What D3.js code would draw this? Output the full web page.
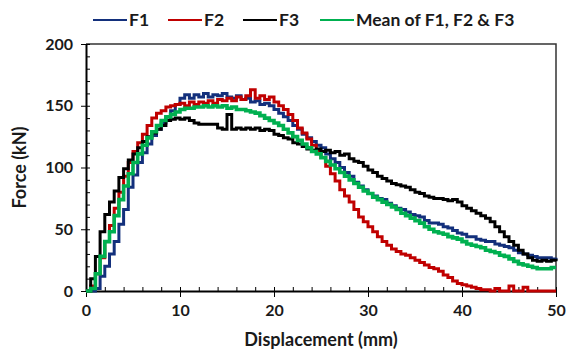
<!DOCTYPE html>
<html>
<head>
<meta charset="utf-8">
<script src="https://cdn.jsdelivr.net/npm/d3@7"></script>
<style>
  body { margin: 0; background: #fff; }
  text { font-family: Lato, "Open Sans", sans-serif; font-weight: bold; fill: #1a1a1a; }
</style>
</head>
<body>
<div id="chart"></div>
<script>
// displacement (mm), sampled every 0.5 mm
const displacement = d3.range(0, 50.01, 0.5);

const f1 = [0, 0, 2, 12, 20, 30, 40, 54, 66, 84, 94, 104, 112, 119, 126, 131, 136, 141, 146, 151,
  156, 159, 156, 159, 157, 160, 157, 159, 158, 160, 157, 156, 158, 155, 156, 153, 154, 151, 152, 150,
  147, 144, 141, 138, 134, 131, 127, 124, 121, 118, 116, 111, 107, 104, 100, 96, 93, 88, 85, 82,
  79, 77, 75, 74, 71, 69, 67, 66, 64, 62, 61, 60, 57, 55, 55, 54, 52, 51, 49, 47,
  46, 44, 44, 42, 41, 40, 40, 38, 37, 36, 35, 33, 31, 30, 29, 28, 27, 27, 27, 26, 27];

const f2 = [0, 4, 14, 27, 40, 53, 67, 80, 93, 104, 113, 120, 127, 134, 140, 144, 146, 149, 150, 151,
  152, 150, 153, 151, 153, 152, 154, 152, 155, 154, 156, 154, 157, 155, 158, 163, 156, 158, 155, 157,
  153, 150, 147, 143, 138, 132, 128, 123, 118, 113, 108, 101, 95, 89, 82, 77, 72, 66, 60, 56,
  52, 48, 44, 40, 37, 34, 32, 30, 29, 27, 25, 23, 21, 19, 18, 16, 13, 11, 8, 6,
  5, 4, 3, 2, 1, 1, 0, 2, 0, 0, 4, 0, 0, 3, 0, 0, 0, 0, 0, 0, 0];

const f3 = [0, 10, 28, 48, 62, 72, 81, 92, 99, 106, 111, 116, 121, 125, 128, 131, 134, 138, 139, 140,
  139, 140, 138, 136, 135, 135, 135, 135, 132, 131, 143, 131, 132, 131, 132, 131, 132, 130, 131, 130,
  127, 126, 124, 123, 120, 119, 117, 115, 114, 115, 113, 114, 112, 113, 110, 111, 107, 105, 104, 101,
  98, 96, 93, 91, 89, 87, 86, 85, 84, 82, 80, 79, 77, 76, 75, 75, 74, 73, 74, 72,
  69, 67, 65, 63, 61, 59, 56, 52, 48, 44, 40, 37, 33, 30, 27, 25, 24, 25, 24, 25, 24];

const fMean = [0, 2, 14, 28, 40, 48, 61, 74, 85, 95, 104, 111, 118, 124, 129, 134, 138, 141, 143, 145,
  147, 148, 148, 149, 149, 150, 149, 150, 149, 150, 148, 149, 147, 147, 146, 145, 144, 142, 140, 138,
  136, 134, 131, 128, 125, 122, 119, 116, 113, 111, 108, 105, 102, 99, 96, 93, 90, 87, 84, 81,
  79, 76, 74, 72, 70, 68, 66, 63, 61, 59, 57, 55, 52, 50, 48, 47, 46, 44, 43, 42,
  40, 38, 37, 36, 35, 33, 32, 31, 29, 28, 26, 24, 22, 21, 20, 19, 18, 18, 18, 19, 19];

const seriesNames = ["F1", "F2", "F3", "Mean of F1, F2 & F3"];
const seriesColors = ["#13307c", "#c00000", "#000000", "#00b050"];
const seriesValues = [f1, f2, f3, fMean];

const xTicks = [0, 10, 20, 30, 40, 50];
const yTicks = [0, 50, 100, 150, 200];

const W = 572, H = 354;
const margin = { top: 44, right: 16, bottom: 63, left: 86 };
const width = W - margin.left - margin.right;
const height = H - margin.top - margin.bottom;

const svg = d3.select("#chart").append("svg")
  .attr("width", W)
  .attr("height", H);

const g = svg.append("g")
  .attr("transform", `translate(${margin.left},${margin.top})`);

const x = d3.scaleLinear().domain([0, 50]).range([0, width]);
const y = d3.scaleLinear().domain([0, 200]).range([height, 0]);

// top and right frame
g.append("path")
  .attr("d", `M0,0H${width}V${height}`)
  .attr("fill", "none")
  .attr("stroke", "#333")
  .attr("stroke-width", 1.5);

// minor ticks (inside)
g.append("g")
  .attr("transform", `translate(0,${height})`)
  .call(d3.axisTop(x).tickValues(d3.range(0, 50.01, 2)).tickSize(4).tickFormat(""))
  .call(a => a.select(".domain").remove())
  .selectAll("line").attr("stroke", "#000");

g.append("g")
  .call(d3.axisRight(y).tickValues(d3.range(0, 200.01, 10)).tickSize(4).tickFormat(""))
  .call(a => a.select(".domain").remove())
  .selectAll("line").attr("stroke", "#000");

// major axes
const xAxis = g.append("g")
  .attr("transform", `translate(0,${height})`)
  .call(d3.axisBottom(x).tickValues(xTicks).tickSize(6).tickSizeOuter(0).tickPadding(8));
xAxis.select(".domain").attr("stroke-width", 2);
xAxis.selectAll("text").style("font-size", "16px");

const yAxis = g.append("g")
  .call(d3.axisLeft(y).tickValues(yTicks).tickSize(5).tickSizeOuter(0).tickPadding(8));
yAxis.select(".domain").attr("stroke-width", 2);
yAxis.selectAll("text").style("font-size", "16px");

// curves
const line = d3.line()
  .x((d, i) => x(displacement[i]))
  .y(d => y(d))
  .curve(d3.curveStepAfter);

seriesValues.forEach((vals, k) => {
  g.append("path")
    .datum(vals)
    .attr("fill", "none")
    .attr("stroke", seriesColors[k])
    .attr("stroke-width", k === 3 ? 3.6 : 3)
    .attr("d", line);
});

// axis titles
svg.append("text")
  .attr("x", margin.left + width / 2)
  .attr("y", 346)
  .attr("text-anchor", "middle")
  .style("font-size", "18px")
  .text("Displacement (mm)");

svg.append("text")
  .attr("transform", `translate(26,${margin.top + height / 2}) rotate(-90)`)
  .attr("text-anchor", "middle")
  .style("font-size", "18px")
  .text("Force (kN)");

// legend
const legendX = [93, 168, 243, 320];
const legend = svg.append("g");
seriesNames.forEach((name, k) => {
  legend.append("line")
    .attr("x1", legendX[k]).attr("x2", legendX[k] + 34)
    .attr("y1", 20).attr("y2", 20)
    .attr("stroke", seriesColors[k])
    .attr("stroke-width", 2);
  legend.append("text")
    .attr("x", legendX[k] + 36)
    .attr("y", 26)
    .style("font-size", "17.5px")
    .text(name);
});
</script>
</body>
</html>
